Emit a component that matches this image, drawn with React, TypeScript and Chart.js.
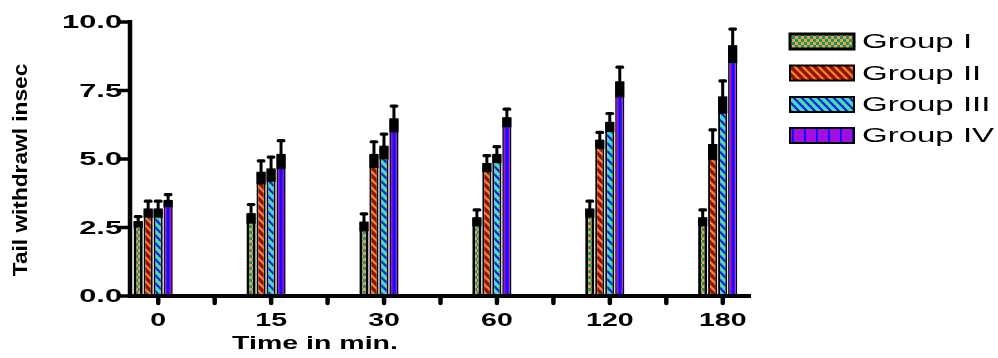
import React, { useEffect, useRef } from "react";
import { Chart, registerables } from "chart.js";

Chart.register(...registerables);

// ---------- data ----------
const categories = ["0", "15", "30", "60", "120", "180"];
const seriesNames = ["Group I", "Group II", "Group III", "Group IV"];
const groupI = [2.7, 2.99, 2.68, 2.84, 3.16, 2.84];
const groupII = [3.16, 4.5, 5.15, 4.82, 5.67, 5.51];
const groupIII = [3.16, 4.62, 5.45, 5.15, 6.32, 7.25];
const groupIV = [3.47, 5.15, 6.45, 6.49, 7.8, 9.12];
const semI = [0.2, 0.35, 0.32, 0.3, 0.3, 0.3];
const semII = [0.3, 0.43, 0.48, 0.3, 0.3, 0.55];
const semIII = [0.3, 0.45, 0.46, 0.3, 0.34, 0.6];
const semIV = [0.23, 0.52, 0.48, 0.33, 0.55, 0.62];
const yTickValues = [0, 2.5, 5, 7.5, 10];
const yTickLabels = ["0.0", "2.5", "5.0", "7.5", "10.0"];
const xAxisTitle = "Time in min.";
const yAxisTitle = "Tail withdrawl insec";

// ---------- style ----------
const CAT_PCT = 0.354;
const BAR_PCT = 0.92;
const BAR_SHIFT = 0.045;
const FONT = "'Liberation Sans', Arial, sans-serif";

function makeTile(w: number, h: number, draw: (g: CanvasRenderingContext2D) => void) {
  const c = document.createElement("canvas");
  c.width = w;
  c.height = h;
  const g = c.getContext("2d")!;
  draw(g);
  return c;
}

const checkerTile = () =>
  makeTile(6, 6, (g) => {
    g.fillStyle = "#f5a040";
    g.fillRect(0, 0, 6, 6);
    g.fillStyle = "#0b9a6b";
    g.fillRect(0, 0, 3, 3);
    g.fillRect(3, 3, 3, 3);
  });

const diagTile = (bg: string, fg: string) =>
  makeTile(8, 8, (g) => {
    g.fillStyle = bg;
    g.fillRect(0, 0, 8, 8);
    g.strokeStyle = fg;
    g.lineWidth = 2.2;
    for (const o of [-8, 0, 8]) {
      g.beginPath();
      g.moveTo(o - 1, -1);
      g.lineTo(o + 9, 9);
      g.stroke();
    }
  });

const vertTile = (lw: number) =>
  makeTile(12, 4, (g) => {
    g.fillStyle = "#a00ee0";
    g.fillRect(0, 0, 12, 4);
    g.fillStyle = "#1010ff";
    g.fillRect(0, 0, lw, 4);
  });

function stretchText(
  ctx: CanvasRenderingContext2D,
  text: string,
  x: number,
  y: number,
  font: string,
  sx: number,
  align: "left" | "center" | "right"
) {
  ctx.save();
  ctx.font = font;
  ctx.textBaseline = "middle";
  ctx.textAlign = "left";
  ctx.fillStyle = "#000";
  const w = ctx.measureText(text).width * sx;
  const x0 = align === "left" ? x : align === "center" ? x - w / 2 : x - w;
  ctx.translate(x0, y);
  ctx.scale(sx, 1);
  ctx.fillText(text, 0, 0);
  ctx.restore();
}

export default function App() {
  const ref = useRef<HTMLCanvasElement>(null);

  useEffect(() => {
    document.body.style.margin = "0";
    const canvas = ref.current!;
    const ctx = canvas.getContext("2d")!;

    const tI = checkerTile();
    const tII = diagTile("#9a1000", "#f08a2a");
    const tIII = diagTile("#3fe0b2", "#1414ee");
    const tIVbar = vertTile(3);
    const tIVleg = vertTile(2);
    const patI = ctx.createPattern(tI, "repeat")!;
    const patII = ctx.createPattern(tII, "repeat")!;
    const patIII = ctx.createPattern(tIII, "repeat")!;
    const patIVleg = ctx.createPattern(tIVleg, "repeat")!;

    const values = [groupI, groupII, groupIII, groupIV];
    const sems = [semI, semII, semIII, semIV];

    const ivFill = (c: any) => {
      const chart = c.chart;
      const xs = chart.scales?.x;
      if (!xs || !c.parsed) return "#a00ee0";
      const step = xs.getPixelForValue(1) - xs.getPixelForValue(0);
      const chunk = (step * CAT_PCT) / 4;
      const center = xs.getPixelForValue(c.parsed.x) + 1.5 * chunk;
      const p = chart.ctx.createPattern(tIVbar, "repeat");
      p.setTransform(new DOMMatrix().translate(Math.round(center) - 1.5, 0));
      return p;
    };

    const fills: any[] = [patI, patII, patIII, ivFill];
    const borders = [3, 2, 2, 1.6];

    const datasets = values.map((vals, d) => ({
      label: seriesNames[d],
      data: vals.map((v, i) => ({ x: i, y: v })),
      backgroundColor: fills[d],
      borderColor: "#000",
      borderWidth: borders[d],
      borderSkipped: "start" as const,
      categoryPercentage: CAT_PCT,
      barPercentage: BAR_PCT,
    }));

    const errorBars = {
      id: "errorBars",
      afterDatasetsDraw(chart: any) {
        const c = chart.ctx;
        const ys = chart.scales.y;
        values.forEach((vals, d) => {
          const meta = chart.getDatasetMeta(d);
          meta.data.forEach((el: any, i: number) => {
            const { x, y, width } = el.getProps(["x", "y", "width"], true);
            const lo = ys.getPixelForValue(vals[i] - sems[d][i]);
            const hi = ys.getPixelForValue(vals[i] + sems[d][i]);
            c.save();
            c.fillStyle = "#000";
            c.fillRect(x - width / 2, y - 1, width, lo - y + 1);
            c.strokeStyle = "#000";
            c.lineWidth = 3;
            c.beginPath();
            c.moveTo(x, y);
            c.lineTo(x, hi);
            c.stroke();
            c.lineCap = "round";
            c.lineWidth = 3.2;
            c.beginPath();
            c.moveTo(x - 2.8, hi);
            c.lineTo(x + 2.8, hi);
            c.stroke();
            c.restore();
          });
        });
      },
    };

    const axesAndText = {
      id: "axesAndText",
      afterDraw(chart: any) {
        const c = chart.ctx;
        const area = chart.chartArea;
        const ys = chart.scales.y;
        const xa = chart.scales.xAxis;
        c.save();
        c.strokeStyle = "#000";
        // y axis
        c.lineWidth = 4.5;
        c.beginPath();
        c.moveTo(area.left, area.top - 2);
        c.lineTo(area.left, area.bottom + 2);
        c.stroke();
        // x axis
        c.lineWidth = 4;
        c.beginPath();
        c.moveTo(area.left - 2, area.bottom);
        c.lineTo(area.right, area.bottom);
        c.stroke();
        // y ticks
        c.lineWidth = 3.5;
        yTickValues.forEach((v) => {
          const py = ys.getPixelForValue(v);
          c.beginPath();
          c.moveTo(area.left - 11, py);
          c.lineTo(area.left, py);
          c.stroke();
        });
        // x ticks (category centres and boundaries)
        c.lineWidth = 4.5;
        c.lineCap = "round";
        for (let k = 0; k <= (categories.length - 1) * 2; k++) {
          const px = xa.getPixelForValue(k / 2);
          c.beginPath();
          c.moveTo(px, area.bottom + 2);
          c.lineTo(px, area.bottom + 7);
          c.stroke();
        }
        c.restore();

        const bold = `bold 19px ${FONT}`;
        yTickValues.forEach((v, i) => {
          stretchText(c, yTickLabels[i], area.left - 8, ys.getPixelForValue(v) + 1, bold, 1.62, "right");
        });
        categories.forEach((lab, i) => {
          stretchText(c, lab, xa.getPixelForValue(i), area.bottom + 25, bold, 1.5, "center");
        });
        stretchText(c, xAxisTitle, 315, 344, bold, 1.5, "center");

        // y title
        c.save();
        c.font = `bold 21px ${FONT}`;
        c.fillStyle = "#000";
        c.textAlign = "center";
        c.textBaseline = "middle";
        c.translate(21, 170);
        c.rotate(-Math.PI / 2);
        c.scale(1.08, 1);
        c.fillText(yAxisTitle, 0, 0);
        c.restore();

        // legend
        const legFills: any[] = [patI, patII, patIII, patIVleg];
        const legTops = [34, 65.5, 97, 128];
        const legBorder = [3, 2, 2, 2];
        legTops.forEach((ty, d) => {
          c.save();
          c.fillStyle = legFills[d];
          c.fillRect(790, ty, 64, 15);
          c.strokeStyle = "#000";
          c.lineWidth = legBorder[d];
          c.strokeRect(790, ty, 64, 15);
          c.restore();
          stretchText(c, seriesNames[d], 862, ty + 8.5, `20px ${FONT}`, 1.65, "left");
        });
      },
    };

    const chart = new Chart(canvas, {
      type: "bar",
      data: { datasets: datasets as any },
      options: {
        animation: false,
        responsive: false,
        devicePixelRatio: 1,
        events: [],
        layout: { padding: { left: 130, right: 247, top: 22, bottom: 62 } },
        plugins: { legend: { display: false }, tooltip: { enabled: false } },
        scales: {
          x: {
            type: "linear",
            display: false,
            offset: false,
            grid: { offset: false },
            min: -0.25 + BAR_SHIFT,
            max: categories.length - 0.75 + BAR_SHIFT,
            afterBuildTicks: (scale: any) => {
              scale.ticks = categories.map((_, i) => ({ value: i }));
            },
          },
          xAxis: {
            type: "linear",
            display: false,
            offset: false,
            grid: { offset: false },
            min: -0.25,
            max: categories.length - 0.75,
          },
          y: { type: "linear", display: false, min: 0, max: 10 },
        },
      } as any,
      plugins: [errorBars, axesAndText],
    });

    return () => chart.destroy();
  }, []);

  return (
    <div style={{ width: 998, height: 358 }}>
      <canvas ref={ref} width={998} height={358} style={{ display: "block" }} />
    </div>
  );
}
